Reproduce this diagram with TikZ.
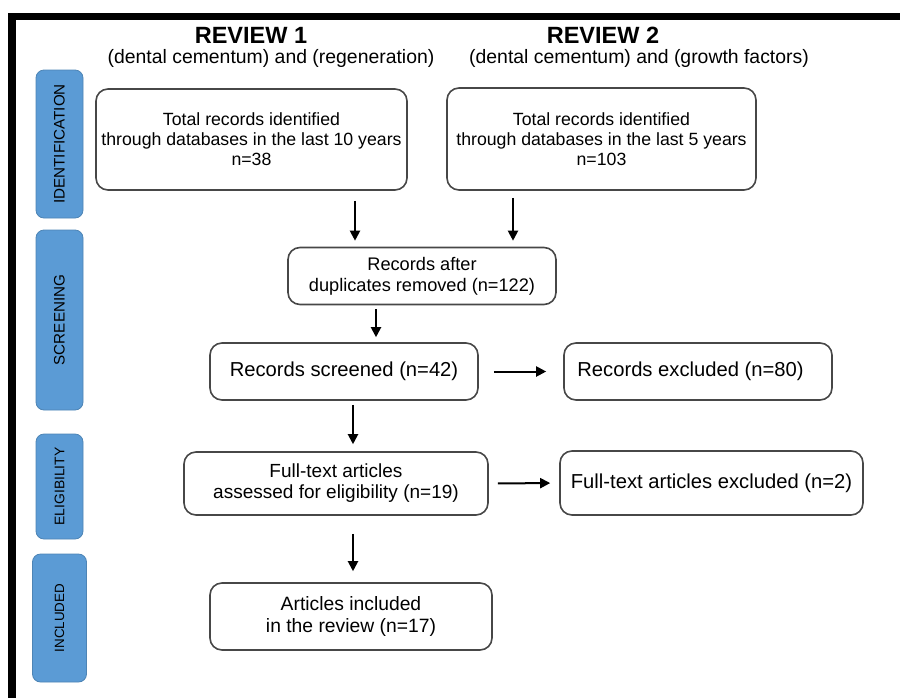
\documentclass[tikz,border=0pt]{standalone}
\usepackage{fontspec}
\setmainfont{Liberation Sans}
\usetikzlibrary{arrows.meta}
\definecolor{tabblue}{HTML}{5B9BD5}
\begin{document}
\begin{tikzpicture}[x=1pt, y=-1pt, thick,
    box/.style={draw=black!72, line width=1.6pt, rounded corners=12pt, align=center,
      inner sep=0pt, fill=white, font=\fontsize{17.7}{20}\selectfont},
    tab/.style={draw=tabblue!85!black, fill=tabblue, rounded corners=8pt, line width=0.8pt,
      rotate=90, inner sep=0pt},
    arr/.style={line width=2pt, -{Triangle[length=10pt, width=10pt]}}]
  \useasboundingbox (0,0) rectangle (900,697);
  % frame
  \draw[line width=7.5pt] (12,710) |- (910,16.5);
  % titles
  \node[font=\fontsize{23.5}{26}\selectfont\bfseries] (rev1) at (251,35) {REVIEW 1};
  \node[font=\fontsize{19.4}{22}\selectfont] (sub1) at (271,58) {(dental cementum) and (regeneration)};
  \node[font=\fontsize{23.5}{26}\selectfont\bfseries] (rev2) at (603,35) {REVIEW 2};
  \node[font=\fontsize{19.4}{22}\selectfont] (sub2) at (639,58) {(dental cementum) and (growth factors)};
  % phase tabs
  \foreach \n/\y/\w/\h/\fs/\t in {tabI/144/47/148/15.2/IDENTIFICATION, tabS/320/47/180/15.2/SCREENING,
      tabE/486.5/47/105/13.9/ELIGIBILITY, tabN/618/54/128/13.4/INCLUDED}
    \node[tab, minimum width=\h pt, minimum height=\w pt, font=\fontsize{\fs}{\fs}\selectfont] (\n) at (59.5,\y) {\t};
  % boxes
  \node[box, minimum width=311pt, minimum height=101pt] (ident1) at (251.5,139.5)
    {Total records identified\\through databases in the last 10 years\\n=38};
  \node[box, minimum width=309pt, minimum height=102pt] (ident2) at (601.5,139)
    {Total records identified\\through databases in the last 5 years\\n=103};
  \node[box, minimum width=268pt, minimum height=57pt, font=\fontsize{18.2}{21}\selectfont] (dupl) at (422,276)
    {Records after\\duplicates removed (n=122)};
  \node[box, minimum width=268pt, minimum height=57pt, font=\fontsize{20.2}{23}\selectfont] (screen) at (344,371.5)
    {Records screened (n=42)};
  \node[box, minimum width=268pt, minimum height=57pt, font=\fontsize{20.2}{23}\selectfont] (excl) at (698,371.5)
    {Records excluded (n=80)\hspace*{15pt}};
  \node[box, minimum width=304pt, minimum height=63pt, font=\fontsize{19}{21}\selectfont] (full) at (336,483.5)
    {Full-text articles\\assessed for eligibility (n=19)};
  \node[box, minimum width=303pt, minimum height=64pt, font=\fontsize{20.2}{23}\selectfont] (ftexcl) at (711.5,483)
    {Full-text articles excluded (n=2)};
  \node[box, minimum width=282pt, minimum height=67pt, font=\fontsize{19.3}{22}\selectfont] (incl) at (351,616.5)
    {Articles included\\in the review (n=17)};
  % arrows
  \draw[arr, shorten <=10pt, shorten >=6pt] ([xshift=103.5pt]ident1.south) -- ([xshift=103.5pt]ident1.south |- dupl.north);
  \draw[arr, shorten <=7pt, shorten >=6pt] ([xshift=-88.5pt]ident2.south) -- ([xshift=-88.5pt]ident2.south |- dupl.north);
  \draw[arr, shorten <=4pt, shorten >=5pt] ([xshift=-46pt]dupl.south) -- ([xshift=-46pt]dupl.south |- screen.north);
  \draw[arr, shorten <=15pt, shorten >=17pt] (screen) -- (excl);
  \draw[arr, shorten <=4pt, shorten >=7pt] ([xshift=9pt]screen.south) -- ([xshift=9pt]screen.south |- full.north);
  \draw[arr, shorten <=9pt, shorten >=9pt] (full.east) -- (ftexcl.west);
  \draw[arr, shorten <=18pt, shorten >=11pt] ([xshift=17pt]full.south) -- ([xshift=17pt]full.south |- incl.north);
\end{tikzpicture}
\end{document}
